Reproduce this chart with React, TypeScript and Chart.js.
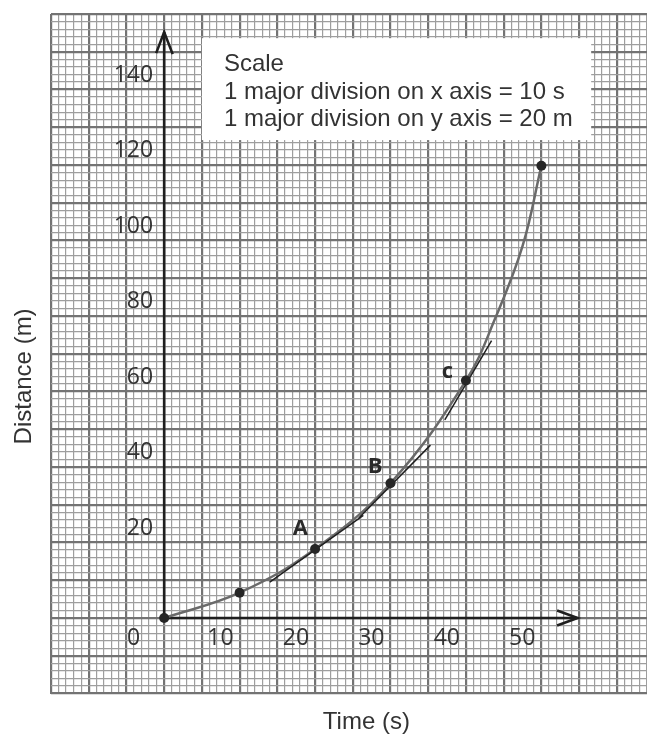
import React, { useEffect, useRef } from "react";
import { Chart, registerables } from "chart.js";

Chart.register(...registerables);

// ---- data ----
const TIME_S = [0, 10, 20, 30, 40, 50];
const DISTANCE_M = [0, 6.7, 18.3, 35.7, 62.9, 119.8];
const POINT_NAMES = ["", "", "A", "B", "c", ""];

// the drawn smooth curve (marked points plus points)
const CURVE_T = [0, 10, 20, 30, 40, 43.8, 47.5, 50];
const CURVE_D = [0, 6.7, 18.3, 35.7, 62.9, 79, 98.5, 119.8];

// tangent segments at A, B, c
const TANGENT_A_T = [14, 26.4];
const TANGENT_A_D = [9.5, 27.2];
const TANGENT_B_T = [25.8, 35.3];
const TANGENT_B_D = [26.5, 45.8];
const TANGENT_C_T = [37.2, 43.4];
const TANGENT_C_D = [52.5, 73.5];

const X_TICK_VALUES = [0, 10, 20, 30, 40, 50];
const Y_TICK_VALUES = [20, 40, 60, 80, 100, 120, 140];
const X_RANGE = [-15, 64];
const Y_RANGE = [-20, 160];
const X_AXIS_END = 54.8;
const Y_AXIS_END = 155.2;

const SCALE_LINES = [
  "Scale",
  "1 major division on x axis = 10 s",
  "1 major division on y axis = 20 m",
];
const SCALE_BOX_X = [5, 56.6];
const SCALE_BOX_Y = [126.6, 153.6];

const X_TITLE = "Time (s)";
const Y_TITLE = "Distance (m)";

// ---- styles ----
const INK = "#1f1f1f";
const TEXT = "#333333";
const TICK_FONT = '400 23px "Open Sans"';
const NAME_FONT = '700 22px "Open Sans"';
const BOX_FONT = '24px "Liberation Sans"';
const TITLE_FONT = '24px "Liberation Sans"';
const NAME_OFFSETS: Record<string, [number, number]> = {
  A: [-7, -14],
  B: [-8, -10],
  c: [-13, -3],
};

const toPts = (xs: number[], ys: number[]) => xs.map((x, i) => ({ x, y: ys[i] }));

const gridColor = (major: boolean) => (major ? "#737373" : "#9e9e9e");

const overlayPlugin = {
  id: "overlay",
  beforeDatasetsDraw(chart: any) {
    const { ctx } = chart;
    const xs = chart.scales.x;
    const ys = chart.scales.y;
    const ox = xs.getPixelForValue(0);
    const oy = ys.getPixelForValue(0);

    // scale box
    const bx0 = xs.getPixelForValue(SCALE_BOX_X[0]);
    const bx1 = xs.getPixelForValue(SCALE_BOX_X[1]);
    const by0 = ys.getPixelForValue(SCALE_BOX_Y[1]);
    const by1 = ys.getPixelForValue(SCALE_BOX_Y[0]);
    ctx.save();
    ctx.fillStyle = "#ffffff";
    ctx.fillRect(bx0, by0, bx1 - bx0, by1 - by0);
    ctx.fillStyle = TEXT;
    ctx.font = BOX_FONT;
    ctx.textAlign = "left";
    ctx.textBaseline = "alphabetic";
    SCALE_LINES.forEach((line, i) => {
      ctx.fillText(line, bx0 + 22, by0 + 33 + i * 27.5);
    });
    ctx.restore();

    // axes with arrows
    const xe = xs.getPixelForValue(X_AXIS_END);
    const ye = ys.getPixelForValue(Y_AXIS_END);
    ctx.save();
    ctx.strokeStyle = INK;
    ctx.lineWidth = 2.6;
    ctx.lineCap = "butt";
    ctx.lineJoin = "miter";
    ctx.beginPath();
    ctx.moveTo(ox, oy);
    ctx.lineTo(xe, oy);
    ctx.moveTo(ox, oy);
    ctx.lineTo(ox, ye);
    ctx.stroke();
    ctx.beginPath();
    ctx.moveTo(xe - 20.5, oy - 7.5);
    ctx.lineTo(xe, oy);
    ctx.lineTo(xe - 20.5, oy + 7.5);
    ctx.moveTo(ox - 8, ye + 21);
    ctx.lineTo(ox, ye);
    ctx.lineTo(ox + 8.5, ye + 22);
    ctx.stroke();
    ctx.restore();
  },
  afterDatasetsDraw(chart: any) {
    const { ctx } = chart;
    const xs = chart.scales.x;
    const ys = chart.scales.y;
    const ox = xs.getPixelForValue(0);
    const oy = ys.getPixelForValue(0);
    ctx.save();
    ctx.fillStyle = TEXT;
    ctx.font = TICK_FONT;
    ctx.textBaseline = "middle";
    ctx.textAlign = "right";
    X_TICK_VALUES.forEach((v) => {
      const px = xs.getPixelForValue(v);
      ctx.fillText(String(v), v === 0 ? px - 24 : px - 6, oy + 20);
    });
    Y_TICK_VALUES.forEach((v) => {
      const py = ys.getPixelForValue(v);
      ctx.fillText(String(v), ox - 11, py - 14.5);
    });

    // point names
    ctx.font = NAME_FONT;
    ctx.textBaseline = "alphabetic";
    ctx.fillStyle = "#2a2a2a";
    POINT_NAMES.forEach((name, i) => {
      if (!name) return;
      const px = xs.getPixelForValue(TIME_S[i]);
      const py = ys.getPixelForValue(DISTANCE_M[i]);
      const off = NAME_OFFSETS[name] || [-8, -10];
      ctx.fillText(name, px + off[0], py + off[1]);
    });

    // axis titles
    ctx.fillStyle = TEXT;
    ctx.font = TITLE_FONT;
    ctx.textAlign = "center";
    ctx.fillText(X_TITLE, xs.getPixelForValue(26.8), 729);
    ctx.translate(31, ys.getPixelForValue(64));
    ctx.rotate(-Math.PI / 2);
    ctx.fillText(Y_TITLE, 0, 0);
    ctx.restore();
  },
};

export default function App() {
  const ref = useRef<HTMLCanvasElement>(null);
  useEffect(() => {
    const canvas = ref.current;
    if (!canvas) return;
    const tangentStyle = {
      showLine: true,
      borderColor: INK,
      borderWidth: 1.5,
      pointRadius: 0,
      tension: 0,
    };
    const chart = new Chart(canvas, {
      type: "scatter",
      data: {
        datasets: [
          {
            label: "points",
            data: toPts(TIME_S, DISTANCE_M),
            showLine: false,
            pointRadius: 5,
            pointBackgroundColor: "#262626",
            pointBorderWidth: 0,
            pointBorderColor: "#262626",
          },
          { label: "tangent A", data: toPts(TANGENT_A_T, TANGENT_A_D), ...tangentStyle },
          { label: "tangent B", data: toPts(TANGENT_B_T, TANGENT_B_D), ...tangentStyle },
          { label: "tangent C", data: toPts(TANGENT_C_T, TANGENT_C_D), ...tangentStyle },
          {
            label: "curve",
            data: toPts(CURVE_T, CURVE_D),
            showLine: true,
            borderColor: "#6a6a6a",
            borderWidth: 2.5,
            pointRadius: 0,
            tension: 0.4,
          },
        ],
      } as any,
      options: {
        responsive: false,
        animation: false,
        devicePixelRatio: 1,
        layout: { autoPadding: false, padding: { left: 51, right: 0, top: 14, bottom: 40.5 } },
        plugins: { legend: { display: false }, tooltip: { enabled: false } },
        scales: {
          x: {
            type: "linear",
            min: X_RANGE[0],
            max: X_RANGE[1],
            border: { display: false },
            ticks: { display: false, stepSize: 1, autoSkip: false },
            grid: {
              drawTicks: false,
              color: (c: any) => gridColor(Math.round(c.tick.value) % 5 === 0),
              lineWidth: (c: any) => (Math.round(c.tick.value) % 5 === 0 ? 2.2 : 1.2),
            },
          },
          y: {
            type: "linear",
            min: Y_RANGE[0],
            max: Y_RANGE[1],
            border: { display: false },
            ticks: { display: false, stepSize: 2, autoSkip: false },
            grid: {
              drawTicks: false,
              color: (c: any) => gridColor(Math.round(c.tick.value) % 10 === 0),
              lineWidth: (c: any) => (Math.round(c.tick.value) % 10 === 0 ? 2.2 : 1.2),
            },
          },
        },
      } as any,
      plugins: [overlayPlugin],
    });
    return () => chart.destroy();
  }, []);
  return (
    <div style={{ position: "fixed", left: 0, top: 0, width: 647, height: 734, background: "#ffffff" }}>
      <canvas ref={ref} width={647} height={734} style={{ display: "block" }} />
    </div>
  );
}
